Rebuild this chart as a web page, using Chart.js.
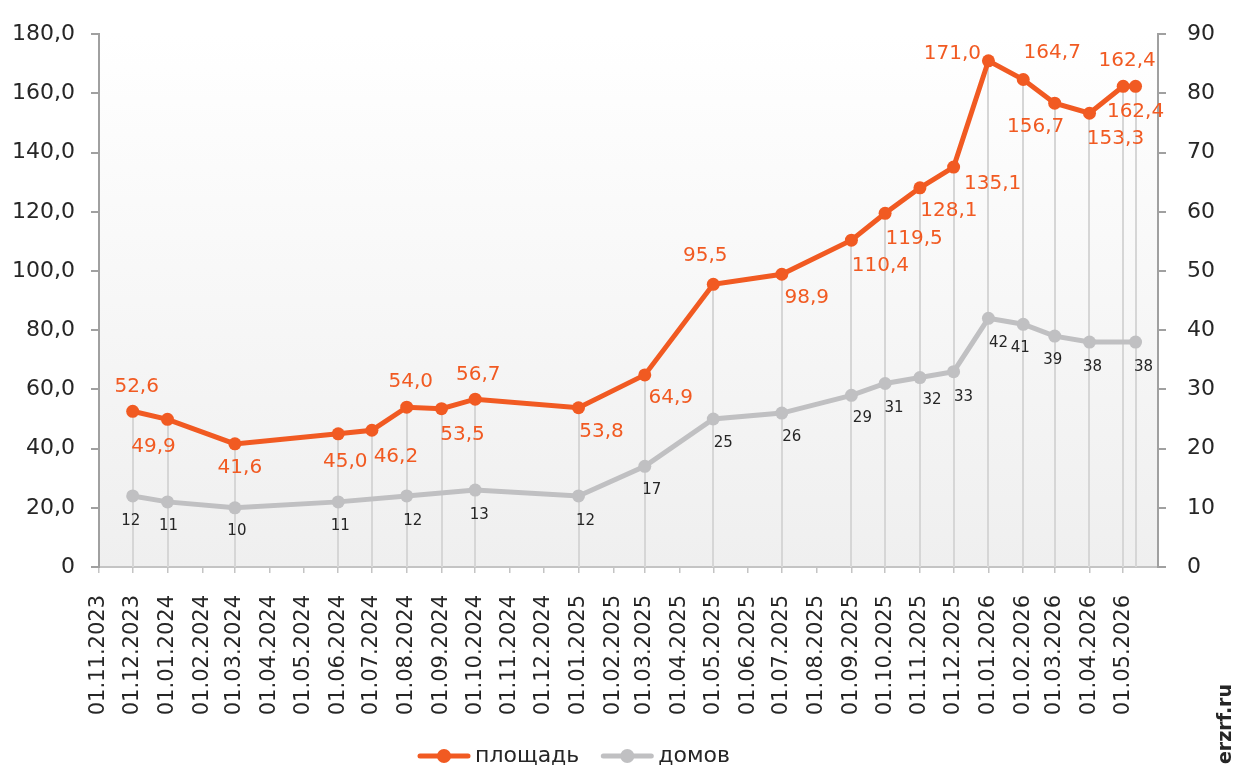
<!DOCTYPE html>
<html><head><meta charset="utf-8">
<script src="https://cdn.jsdelivr.net/npm/chart.js@4.4.1/dist/chart.umd.min.js"></script>
<style>html,body{margin:0;padding:0;background:#fff;}#wrap{width:1236px;height:769px;}</style>
</head><body><div id="wrap"><canvas id="c" width="1236" height="769"></canvas></div>
<script>
// ---- data ----
const xTickLabels = ['01.11.2023','01.12.2023','01.01.2024','01.02.2024','01.03.2024','01.04.2024','01.05.2024','01.06.2024','01.07.2024','01.08.2024','01.09.2024','01.10.2024','01.11.2024','01.12.2024','01.01.2025','01.02.2025','01.03.2025','01.04.2025','01.05.2025','01.06.2025','01.07.2025','01.08.2025','01.09.2025','01.10.2025','01.11.2025','01.12.2025','01.01.2026','01.02.2026','01.03.2026','01.04.2026','01.05.2026'];
const xAxisEnd = '01.06.2026';
const areaDates = ['01.12.2023','01.01.2024','01.03.2024','01.06.2024','01.07.2024','01.08.2024','01.09.2024','01.10.2024','01.01.2025','01.03.2025','01.05.2025','01.07.2025','01.09.2025','01.10.2025','01.11.2025','01.12.2025','01.01.2026','01.02.2026','01.03.2026','01.04.2026','01.05.2026','12.05.2026'];
const areaValues = [52.6,49.9,41.6,45.0,46.2,54.0,53.5,56.7,53.8,64.9,95.5,98.9,110.4,119.5,128.1,135.1,171.0,164.7,156.7,153.3,162.4,162.4];
const houseDates = ['01.12.2023','01.01.2024','01.03.2024','01.06.2024','01.08.2024','01.10.2024','01.01.2025','01.03.2025','01.05.2025','01.07.2025','01.09.2025','01.10.2025','01.11.2025','01.12.2025','01.01.2026','01.02.2026','01.03.2026','01.04.2026','12.05.2026'];
const houseValues = [12,11,10,11,12,13,12,17,25,26,29,31,32,33,42,41,39,38,38];
const seriesNames = ['площадь','домов'];
const watermark = 'erzrf.ru';

// ---- label placement (style) ----
const areaLabelOffsets = [[4,-25],[-14,28],[5,24],[7,28],[24,27],[4,-25],[21,26],[3,-24],[23,24],[26,23],[-8,-29],[25,24],[29,26],[29,26],[29,23],[39,17],[-36,-7],[29,-27],[-19,24],[26,26],[4,-25],[0,26]];
const houseLabelOffsets = [[-2,25],[1,24],[2,23],[2,24],[6,25],[4,25],[7,25],[7,24],[10,24],[10,24],[11,23],[9,25],[12,23],[10,25],[10,25],[-3,24],[-2,24],[3,25],[8,25]];

const ORANGE = '#f15a22', GREY = '#c0c0c2', TXT = '#262626';
const FONT = "'DejaVu Sans', sans-serif";

function toTs(s){ const p = s.split('.').map(Number); return Date.UTC(p[2], p[1]-1, p[0]); }
function fmtLeft(v){ return v === 0 ? '0' : v.toFixed(1).replace('.', ','); }

const bgPlugin = {
  id: 'bg',
  beforeDraw(chart){
    const {ctx, chartArea:a} = chart;
    const g = ctx.createLinearGradient(0, a.top, 0, a.bottom);
    g.addColorStop(0, '#ffffff');
    g.addColorStop(1, '#efefef');
    ctx.save(); ctx.fillStyle = g; ctx.fillRect(a.left, a.top, a.right-a.left, a.bottom-a.top); ctx.restore();
  }
};

const dropPlugin = {
  id: 'drops',
  beforeDatasetsDraw(chart){
    const {ctx, chartArea:a} = chart;
    const tops = new Map();
    chart.data.datasets.forEach((ds, i) => {
      chart.getDatasetMeta(i).data.forEach(el => {
        const k = Math.round(el.x);
        if (!tops.has(k) || tops.get(k) > el.y) tops.set(k, el.y);
      });
    });
    ctx.save(); ctx.strokeStyle = '#d6d6d6'; ctx.lineWidth = 2;
    tops.forEach((y, x) => { ctx.beginPath(); ctx.moveTo(x, y); ctx.lineTo(x, a.bottom); ctx.stroke(); });
    ctx.restore();
  }
};

const labelPlugin = {
  id: 'vlabels',
  afterDatasetsDraw(chart){
    const ctx = chart.ctx;
    ctx.save(); ctx.textAlign = 'center'; ctx.textBaseline = 'middle';
    const m0 = chart.getDatasetMeta(0);
    ctx.font = '20px ' + FONT; ctx.fillStyle = ORANGE;
    m0.data.forEach((el, j) => {
      const o = areaLabelOffsets[j];
      ctx.fillText(areaValues[j].toFixed(1).replace('.', ','), el.x + o[0], el.y + o[1]);
    });
    const m1 = chart.getDatasetMeta(1);
    ctx.font = '15px ' + FONT; ctx.fillStyle = TXT;
    m1.data.forEach((el, j) => {
      const o = houseLabelOffsets[j];
      ctx.fillText(String(houseValues[j]), el.x + o[0], el.y + o[1]);
    });
    ctx.restore();
  }
};

const legendPlugin = {
  id: 'myLegend',
  afterDraw(chart){
    const ctx = chart.ctx;
    ctx.save();
    ctx.font = '22px ' + FONT;
    const sample = 48, gap = 7, space = 24, y = 756;
    const items = chart.data.datasets.map(ds => ({label: ds.label, color: ds.borderColor, w: ctx.measureText(ds.label).width}));
    const total = items.reduce((s, it) => s + sample + gap + it.w, 0) + space * (items.length - 1);
    let x = 575 - total / 2;
    items.forEach(it => {
      ctx.strokeStyle = it.color; ctx.lineWidth = 5; ctx.lineCap = 'round';
      ctx.beginPath(); ctx.moveTo(x, y); ctx.lineTo(x + sample, y); ctx.stroke();
      ctx.fillStyle = it.color; ctx.beginPath(); ctx.arc(x + sample/2, y, 7, 0, Math.PI*2); ctx.fill();
      ctx.fillStyle = TXT; ctx.textAlign = 'left'; ctx.textBaseline = 'middle';
      ctx.fillText(it.label, x + sample + gap, y);
      x += sample + gap + it.w + space;
    });
    // watermark
    ctx.translate(1226, 724); ctx.rotate(-Math.PI/2);
    ctx.font = 'bold 19px ' + FONT; ctx.fillStyle = TXT; ctx.textAlign = 'center'; ctx.textBaseline = 'middle';
    ctx.fillText(watermark, 0, 0);
    ctx.restore();
  }
};

new Chart(document.getElementById('c'), {
  type: 'line',
  data: {
    datasets: [
      { label: seriesNames[0], data: areaDates.map((d, i) => ({x: toTs(d), y: areaValues[i]})), yAxisID: 'y',
        borderColor: ORANGE, backgroundColor: ORANGE, borderWidth: 5, pointRadius: 6.5, pointHoverRadius: 6.5,
        pointBorderWidth: 0, tension: 0, fill: false },
      { label: seriesNames[1], data: houseDates.map((d, i) => ({x: toTs(d), y: houseValues[i]})), yAxisID: 'y1',
        borderColor: GREY, backgroundColor: GREY, borderWidth: 5, pointRadius: 6.5, pointHoverRadius: 6.5,
        pointBorderWidth: 0, tension: 0, fill: false }
    ]
  },
  options: {
    responsive: false, animation: false, devicePixelRatio: 1,
    layout: { padding: { top: 21, bottom: 40, left: 0, right: 0 } },
    plugins: { legend: { display: false }, tooltip: { enabled: false } },
    scales: {
      x: {
        type: 'linear', min: toTs(xTickLabels[0]), max: toTs(xAxisEnd),
        afterBuildTicks: s => { s.ticks = xTickLabels.map(t => ({value: toTs(t)})); },
        afterFit: s => { s.height = 162; },
        ticks: { autoSkip: false, minRotation: 90, maxRotation: 90, padding: 22,
                 font: { family: FONT, size: 21 }, color: TXT,
                 callback: (v, i) => xTickLabels[i] },
        grid: { display: true, drawOnChartArea: false, drawTicks: true, tickLength: 6, color: '#c4c4c4', lineWidth: 1.5 },
        border: { display: true, color: '#c4c4c4', width: 2 }
      },
      y: {
        position: 'left', min: 0, max: 180,
        afterFit: s => { s.width = 99; },
        ticks: { stepSize: 20, padding: 16, font: { family: FONT, size: 22 }, color: TXT, callback: v => fmtLeft(v) },
        grid: { drawOnChartArea: false, drawTicks: true, tickLength: 8, color: '#a0a0a0', lineWidth: 2 },
        border: { display: true, color: '#a0a0a0', width: 2 }
      },
      y1: {
        position: 'right', min: 0, max: 90,
        afterFit: s => { s.width = 78; },
        ticks: { stepSize: 10, padding: 21, font: { family: FONT, size: 22 }, color: TXT },
        grid: { drawOnChartArea: false, drawTicks: true, tickLength: 8, color: '#a0a0a0', lineWidth: 2 },
        border: { display: true, color: '#a0a0a0', width: 2 }
      }
    }
  },
  plugins: [bgPlugin, dropPlugin, labelPlugin, legendPlugin]
});
</script></body></html>
